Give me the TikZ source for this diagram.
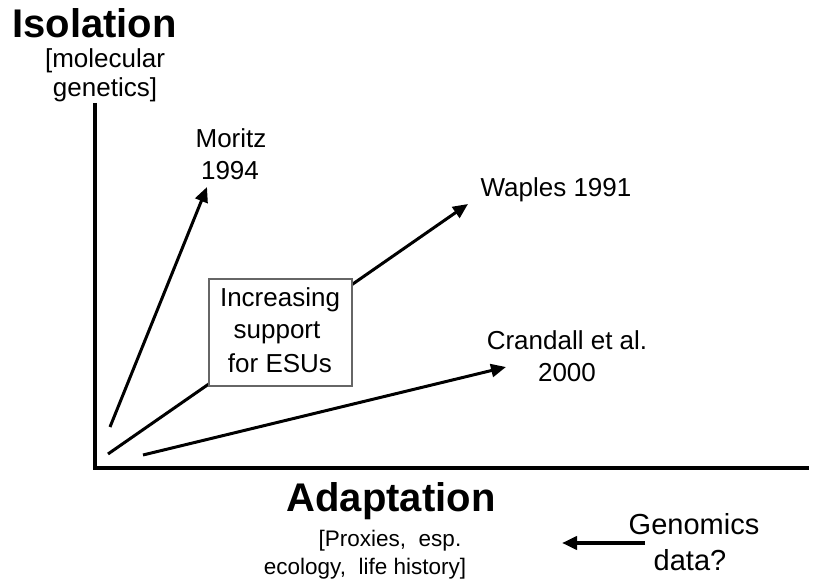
\documentclass[tikz,border=0pt]{standalone}
\usepackage{fontspec}
\setmainfont{Liberation Sans}
\usetikzlibrary{arrows.meta}
\begin{document}
\begin{tikzpicture}[x=1pt,y=-1pt,
  lbl/.style={inner sep=0pt,anchor=base,font=\fontsize{26}{30}\selectfont},
  lbls/.style={inner sep=0pt,anchor=base,font=\fontsize{22.5}{27}\selectfont},
  lblb/.style={inner sep=0pt,anchor=base,font=\fontsize{29}{33}\selectfont},
  big/.style={inner sep=0pt,anchor=base,font=\fontsize{40}{44}\selectfont\bfseries},
  axis/.style={line width=3.5pt,line join=miter},
  arr/.style={line width=3pt,-{Triangle[length=15pt,width=13pt]}},
  esubox/.style={draw=black!60,line width=1.2pt,fill=white,minimum width=143pt,minimum height=107pt,inner sep=0pt}]
\useasboundingbox (0,0) rectangle (815,588);
% axes
\coordinate (top) at (95,103);
\coordinate (origin) at (95,468);
\coordinate (right) at (809,468);
\draw[axis] (top) -- (origin) -- (right);
% arrows
\coordinate (m0) at (110,427);
\coordinate (m1) at (207,187);
\coordinate (w0) at (108,454);
\coordinate (w1) at (468,204);
\coordinate (c0) at (143,455);
\coordinate (c1) at (506,367);
\draw[arr] (m0) -- (m1);
\draw[arr] (w0) -- (w1);
\draw[arr] (c0) -- (c1);
% box
\node[esubox] (box) at (280.5,332.5) {};
\node[lbl] (b1) at (280,307) {Increasing};
\node[lbl] (b2) at (277,339) {support};
\node[lbl] (b3) at (280,373) {for ESUs};
% labels
\node[big,anchor=base west] (iso) at (12,38) {Isolation};
\node[lbl] (mol1) at (105,68) {[molecular};
\node[lbl] (mol2) at (105,97) {genetics]};
\node[lbl] (mor1) at (231,148) {Moritz};
\node[lbl] (mor2) at (230,180) {1994};
\node[lbl] (wap) at (556,197) {Waples 1991};
\node[lbl] (cr1) at (567,350) {Crandall et al.};
\node[lbl] (cr2) at (567,382) {2000};
\node[big] (adapt) at (391,511) {Adaptation};
\node[lbls] (px1) at (390,546) {[Proxies,\ \ esp.};
\node[lbls] (px2) at (365,574) {ecology,\ \ life history]};
\node[lblb] (gen1) at (694,534) {Genomics};
\node[lblb] (gen2) at (690,570) {data?};
\coordinate (g0) at (645,543);
\coordinate (g1) at (562,543);
\draw[arr,line width=4pt] (g0) -- (g1);
\end{tikzpicture}
\end{document}
